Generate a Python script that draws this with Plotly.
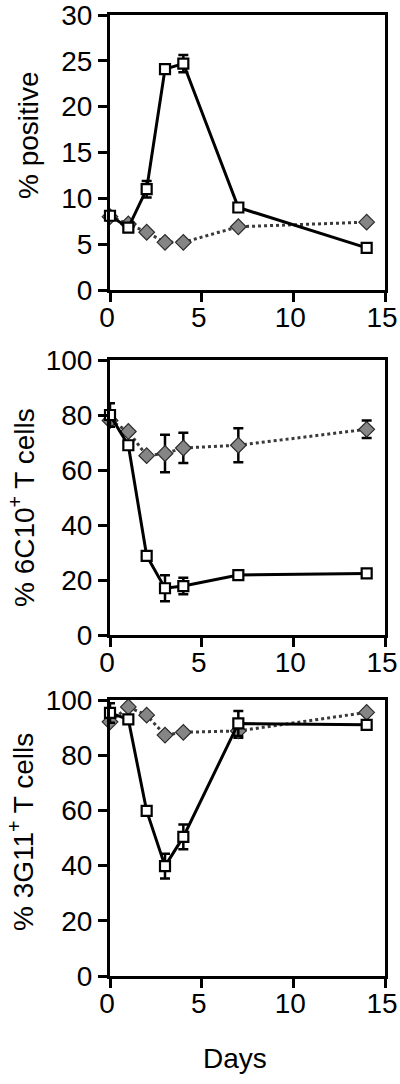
import plotly.graph_objects as go

days = [0, 1, 2, 3, 4, 7, 14]

# Panel 1: % positive
p1_sq = [8.1, 6.8, 11.0, 24.1, 24.7, 9.0, 4.6]
p1_sq_err = [0, 0, 0.9, 0, 0.95, 0, 0]
p1_di = [8.0, 7.2, 6.3, 5.2, 5.2, 6.9, 7.4]
p1_di_err = [0, 0, 0, 0, 0, 0, 0]

# Panel 2: % 6C10+ T cells
p2_sq = [80.0, 69.0, 28.8, 17.0, 17.8, 21.8, 22.4]
p2_sq_err = [4.3, 0, 0, 4.7, 3.0, 0, 0]
p2_di = [78.0, 74.0, 65.2, 66.0, 68.0, 69.0, 74.8]
p2_di_err = [0, 0, 0, 6.8, 5.5, 6.2, 3.2]

# Panel 3: % 3G11+ T cells
p3_sq = [95.3, 93.0, 59.8, 39.8, 50.4, 91.5, 91.0]
p3_sq_err = [3.5, 0, 0, 4.5, 4.5, 4.5, 0]
p3_di = [92.1, 97.5, 94.5, 87.3, 88.3, 88.8, 95.5]
p3_di_err = [0, 0, 0, 0, 0, 2.5, 0]

y_titles = ["% positive", "% 6C10<sup>+</sup> T cells", "% 3G11<sup>+</sup> T cells"]
y_ranges = [[0, 30], [0, 100], [0, 100]]
y_dtick = [5, 20, 20]
x_ticks = [0, 5, 10, 15]

W, H = 400, 1084
panels_px = [(15, 290), (360, 635), (700, 976)]
x_px = (110, 385)
title_pos = [(28, 135), (22, 508), (21, 832)]

FONT = "Liberation Sans, Arial, Helvetica, sans-serif"

fig = go.Figure()
series = [
    (p1_sq, p1_sq_err, p1_di, p1_di_err),
    (p2_sq, p2_sq_err, p2_di, p2_di_err),
    (p3_sq, p3_sq_err, p3_di, p3_di_err),
]

for i, (sq, sqe, di, die) in enumerate(series):
    suffix = "" if i == 0 else str(i + 1)
    xa, ya = "x" + suffix, "y" + suffix
    fig.add_trace(go.Scatter(
        x=days, y=di, xaxis=xa, yaxis=ya, mode="lines+markers",
        line=dict(color="#3a3a3a", width=3, dash="dot"),
        marker=dict(symbol="diamond", size=12, color="#858585",
                    line=dict(color="#2a2a2a", width=1.2)),
        error_y=dict(type="data", array=die, visible=True, color="black",
                     thickness=2.5, width=5),
        cliponaxis=False, showlegend=False))
    fig.add_trace(go.Scatter(
        x=days, y=sq, xaxis=xa, yaxis=ya, mode="lines+markers",
        line=dict(color="black", width=3),
        marker=dict(symbol="square", size=10, color="white",
                    line=dict(color="black", width=2.2)),
        error_y=dict(type="data", array=sqe, visible=True, color="black",
                     thickness=2.5, width=5),
        cliponaxis=False, showlegend=False))

layout = dict(
    template="none",
    width=W, height=H, autosize=False,
    margin=dict(l=0, r=0, t=0, b=0, pad=0, autoexpand=False),
    paper_bgcolor="white", plot_bgcolor="white",
    font=dict(family=FONT, size=28, color="black"),
)
axis_common = dict(showline=True, linecolor="black", linewidth=3, mirror=True,
                   ticks="outside", ticklen=9, tickwidth=3, tickcolor="black",
                   showgrid=False, zeroline=False, automargin=False,
                   ticklabeloverflow="allow",
                   tickfont=dict(family=FONT, size=28, color="black"))
annotations = []
for i in range(3):
    suffix = "" if i == 0 else str(i + 1)
    top, bot = panels_px[i]
    ydom = [(H - bot) / H, (H - top) / H]
    xdom = [x_px[0] / W, x_px[1] / W]
    layout["xaxis" + suffix] = dict(axis_common, domain=xdom, range=[0, 15],
                                    tickvals=x_ticks, anchor="y" + suffix,
                                    ticklabelstandoff=-9, ticklabelshift=-3)
    layout["yaxis" + suffix] = dict(axis_common, domain=ydom, range=y_ranges[i],
                                    dtick=y_dtick[i], tick0=0, anchor="x" + suffix)
    tx, ty = title_pos[i]
    annotations.append(dict(text=y_titles[i], xref="paper", yref="paper",
                            x=tx / W, y=(H - ty) / H, xanchor="center", yanchor="middle",
                            textangle=-90, showarrow=False,
                            font=dict(family=FONT, size=28, color="black")))
annotations.append(dict(text="Days", xref="paper", yref="paper",
                        x=235 / W, y=(H - 1058) / H, xanchor="center", yanchor="middle",
                        showarrow=False, font=dict(family=FONT, size=28, color="black")))
layout["annotations"] = annotations
fig.update_layout(**layout)
fig.write_html("out.html",
               config={"displayModeBar": False, "staticPlot": True},
               post_script="document.body.style.margin='0';document.body.style.overflow='hidden';")
